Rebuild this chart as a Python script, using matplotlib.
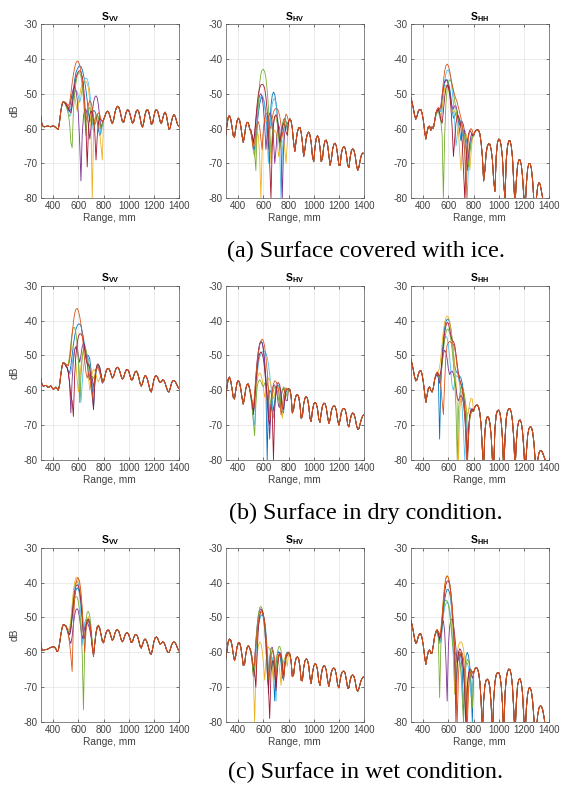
import numpy as np
import matplotlib.pyplot as plt

plt.rcParams['font.family'] = 'Liberation Sans'
plt.rcParams['mathtext.fontset'] = 'custom'
plt.rcParams['mathtext.rm'] = 'Liberation Sans'
plt.rcParams['mathtext.bf'] = 'Liberation Sans:bold'
plt.rcParams['mathtext.default'] = 'bf'
plt.rcParams['axes.unicode_minus'] = False

# sampling of the range axis (mm)
range_pre = np.arange(300, 500, 10)
range_head = np.arange(500, 800, 10)
range_tail = np.arange(800, 1410, 10)

# ---------------- (a) surface covered with ice ----------------
vv_ice_pre = [-56.5, -58.8, -59.4, -59.5, -59.4, -59.3, -59.3, -59.4, -59.5, -59.3,
              -59.2, -59.4, -59.7, -60, -60.2, -58, -55, -53, -52.2, -52.5]
vv_ice_heads = [
    [-53.2, -53.8, -54.5, -55, -54.5, -52, -49, -46, -44, -43, -42.3, -42, -42.2, -43, -44.5,
     -46.5, -49, -52, -55.5, -58, -57, -55.5, -54.8, -55, -56, -58, -60.5, -62, -60.5, -58.5],
    [-52.5, -53, -53.5, -52.5, -50, -47, -44.5, -42.5, -41.2, -40.6, -40.8, -41.8, -43.5, -46, -49.5,
     -54, -58, -55.5, -53, -52, -52.5, -54, -56.5, -59, -58, -56, -55.5, -56, -57.5, -58],
    [-52.8, -53.5, -54, -53, -51.5, -50, -49.5, -50.5, -53, -55, -53, -50.5, -48.5, -47.2, -46.5,
     -46.3, -46.5, -47, -48.5, -52, -60, -80, -62, -57.5, -56, -56.5, -58.5, -61.5, -65, -69],
    [-53, -54, -54.8, -54, -52, -50, -48.5, -48, -49, -51.5, -56, -64, -75, -62, -56.5,
     -54.5, -54.5, -56, -59, -63, -60, -55.5, -52.5, -51, -50.6, -51.2, -53.5, -57, -60, -58.5],
    [-53.5, -54.5, -56, -58.5, -64, -65.5, -55, -50, -47, -45, -44, -44, -45, -47.5, -51.5,
     -57, -62, -57, -54.5, -54, -55, -57, -59, -58, -56.5, -56, -56.8, -58.5, -60, -59],
    [-53.5, -54, -55, -56.5, -56, -53.5, -51, -49.5, -49, -49.5, -51, -52.5, -51, -48.5, -46.8,
     -45.8, -45.5, -45.8, -47, -49.5, -53.5, -58, -61, -58, -56, -55.8, -57, -59.5, -61.5, -59],
    [-53, -53.5, -54, -55, -55.5, -53.5, -50.5, -47.5, -45.5, -44.3, -43.6, -43.4, -43.8, -45, -47.5,
     -52, -60, -71, -60, -56, -55, -55.5, -57.5, -61, -69, -62, -58, -57, -57.5, -58],
]
vv_ice_tail = [-57.5, -56.5, -55.5, -55, -55.3, -56.3, -57.8, -58.6, -57.5, -55.5,
               -54.2, -53.6, -53.8, -54.8, -56.5, -58, -58.2, -56.8, -55.3, -54.6,
               -54.8, -55.8, -57.3, -58.5, -58, -56.3, -55, -54.6, -55.2, -56.8,
               -58.8, -59.6, -58.2, -56, -54.8, -54.5, -55.3, -57, -58.8, -58.5,
               -56.5, -55, -54.5, -55, -56.3, -58, -58.6, -57.2, -55.8, -55.3,
               -56.2, -58.3, -60.2, -59.8, -58, -56.6, -56, -56.5, -57.8, -59, -59.3]

hv_ice_pre = [-62, -59, -56.8, -56.2, -57.3, -59.5, -62, -62.5, -60, -57.8,
              -57, -57.5, -59.3, -62, -64, -62, -59.3, -58.2, -58.3, -60]
hv_ice_heads = [
    [-60.5, -62, -64, -66, -64, -59, -55.5, -53, -51.5, -51, -51.5, -53, -56, -61, -66,
     -60, -53.5, -50.5, -49.5, -50.2, -52.5, -56, -60.5, -65, -64, -60, -57.5, -57, -58, -60.5],
    [-61, -63.5, -66, -64, -60.5, -58.5, -58, -59.5, -63, -66, -60, -57, -55.8, -55.5, -56.5,
     -59.5, -60, -57, -55.2, -54.5, -54.2, -54.3, -55, -56.5, -59, -62, -60.5, -57.5, -55.8, -56.5],
    [-61, -63, -65.5, -68, -65, -61, -62, -68, -80, -66, -61, -58.5, -57.5, -58, -60,
     -64, -70, -65, -61.5, -60.5, -61, -63.5, -68, -66, -63, -62, -63, -66, -70, -64],
    [-60.5, -62.5, -64, -62, -58, -54.5, -52, -50.5, -50, -51, -54, -59, -66, -62, -57,
     -55.5, -56, -58.5, -63, -70, -66, -61, -59, -60, -65, -80, -66, -61, -58.8, -58.5],
    [-61, -63, -65, -67, -72, -60, -52, -47, -44.3, -43.2, -43, -43.7, -45.5, -49, -54,
     -60, -67, -62, -58, -56.5, -56.8, -58.5, -62, -66, -62, -59, -57.5, -57.2, -58, -60],
    [-61, -63, -66.5, -68, -62, -57, -54, -52, -50.8, -50.5, -51.2, -53.5, -57.5, -63, -70,
     -61, -56, -53, -51.5, -51.5, -53, -56, -60.5, -67, -80, -68, -61, -58.5, -58, -59.5],
    [-60.5, -62, -64, -61.5, -57, -53, -50, -48.3, -47.5, -47.3, -47.5, -48.5, -51, -55, -61,
     -70, -80, -65, -59, -56.5, -56, -57, -60, -64, -62, -59.5, -58.5, -59, -61, -62],
]
hv_ice_tail = [-58, -57.2, -57.8, -60, -64, -66.5, -63.5, -61, -59.8, -59.7,
               -61, -64, -68, -66, -63, -61.5, -61, -61.8, -64, -68,
               -69.5, -65.5, -62.8, -62, -62.8, -65.5, -69.5, -68.5, -65, -63.5,
               -63.3, -64.5, -67.5, -70.5, -69, -66, -64.5, -64.2, -65, -67.5,
               -70.5, -70.5, -67.2, -65.6, -65.2, -65.6, -67.5, -70.5, -71.2, -68.2,
               -66.3, -65.8, -66.2, -67.8, -70.5, -72, -71, -69, -67.5, -67, -67.2]

hh_ice_pre = [-51, -52.3, -54, -56, -57.3, -56.5, -55, -54.5, -54.5, -55.5,
              -57.5, -60.5, -63, -61, -59.5, -59.3, -60.5, -59.5, -60, -58]
hh_ice_heads = [
    [-56, -55, -54.5, -55, -55, -52, -49, -47, -46, -46, -46.8, -48.5, -51, -54.5, -57,
     -56.5, -55.5, -56, -58, -61, -63.5, -62, -60.5, -60.5, -62, -65, -68, -66, -63.5, -62.5],
    [-55.5, -54.5, -54, -54.5, -54, -50.5, -46.5, -43.5, -42, -41.5, -42, -43.5, -45.5, -47.5, -49,
     -50.5, -51.5, -52.5, -54, -55.5, -57, -59, -62, -67, -80, -67, -62.5, -60.5, -60, -60.5],
    [-56, -55, -54.5, -55.5, -56, -54, -51, -48.5, -47.5, -47.5, -48.5, -50.5, -53, -55, -55.5,
     -55, -55.5, -57.5, -61, -67, -72, -66, -62.5, -61, -61.5, -63.5, -67, -72, -67, -63],
    [-55.5, -54.5, -54, -54.5, -53.5, -50.5, -48, -46.5, -46, -46.3, -47.5, -49.5, -52, -54, -54.3,
     -53.5, -53.5, -55, -57.5, -59, -58.5, -58, -59, -61.5, -66, -72, -68, -64, -62, -61.5],
    [-56.5, -55.5, -55, -56, -58, -62, -80, -62, -53, -48.5, -46.5, -46, -46.3, -47.5, -49.5,
     -52, -54.5, -56.5, -57.5, -58, -58.5, -59.5, -61, -63, -65.5, -68.5, -71, -67, -64, -62.5],
    [-56, -55, -55, -56.5, -58, -55, -50, -46.5, -44.3, -43.3, -43.2, -44, -46, -49, -53,
     -58, -65, -62, -58.5, -57.5, -58, -60, -63, -67, -72, -80, -70, -65, -63, -62],
    [-55.5, -55, -54.5, -55.5, -57.5, -58.5, -55, -51, -48.5, -47.5, -48, -50, -54, -60, -68,
     -63, -58.5, -56.5, -56.3, -57.5, -60, -64, -72, -80, -70, -64, -61.5, -60.5, -61, -62],
]
hh_ice_tail = [-62, -61, -60.5, -60.3, -60.5, -61.5, -64, -68, -75, -72,
               -67, -65, -64.3, -64.5, -66, -69, -75, -78, -68, -64,
               -63, -63.3, -65, -68.5, -76, -80, -69, -65, -63.5, -63.5,
               -65, -68.5, -76, -82, -75, -70.5, -69, -69, -70.5, -74,
               -80, -83, -76, -71.5, -70, -70, -71.5, -75, -81, -83,
               -80, -76.5, -75.5, -76, -78, -80, -82, -83, -82, -81, -80.5]

# ---------------- (b) surface in dry condition ----------------
vv_dry_pre = [-56.5, -58.3, -58.8, -58.7, -58.6, -58.8, -59.2, -59, -58.7, -59.2,
              -59.7, -59.5, -59.1, -59.5, -60, -58.5, -55.5, -53, -52, -52.3]
vv_dry_heads = [
    [-53, -53.5, -54.5, -55, -53, -50, -47, -44.5, -42.5, -41.5, -41, -41, -41.5, -43, -45,
     -47.5, -49.5, -50, -50, -51, -54, -59, -65.5, -58.5, -54.5, -53, -52.8, -53.5, -55.5, -57.5],
    [-52.5, -53, -53, -51.5, -48, -44, -40.5, -38, -36.8, -36.5, -37.2, -38.8, -41, -44, -47.5,
     -51.5, -55, -56.5, -55, -56, -59, -62, -60, -56, -54, -53.5, -54, -55, -56.5, -57.5],
    [-52.5, -53, -52.5, -51, -49, -47.5, -47.5, -49, -52.5, -57, -60.5, -57, -53, -50, -48.5,
     -48.3, -49.5, -52, -56, -60, -58, -55, -54, -54.3, -55.5, -57, -57.5, -56.5, -56, -57],
    [-53, -53.5, -55, -58, -66.5, -57, -51.5, -48.5, -47.5, -48, -50, -52, -50, -47.5, -46.5,
     -47, -49, -52, -55.5, -57, -56, -56.5, -59, -57, -54, -53, -53.3, -54.5, -56.5, -58],
    [-52.5, -52.8, -52.5, -50, -46.5, -43.5, -42, -42, -43.5, -46.5, -51.5, -63.5, -56, -51, -48.5,
     -47.8, -48.3, -50, -53, -56.5, -57, -56, -56.5, -56, -54, -53, -53, -54, -55.5, -57],
    [-53, -53.5, -54.5, -55.5, -55, -52.5, -50, -48, -47.5, -48.5, -51.5, -56, -63.5, -58, -53.5,
     -51, -50, -50, -51, -53.5, -57, -61, -64, -58, -54.5, -53, -52.8, -53.5, -55.5, -57.5],
    [-53, -53.5, -55, -58, -62, -63, -67.5, -56, -50, -46.5, -44.5, -43.8, -43.8, -44.5, -46,
     -48.5, -51, -52.5, -52.5, -53.5, -56.5, -61, -65.5, -58, -54, -52.5, -52.5, -53.5, -55.5, -57.5],
]
vv_dry_tail = [-57.5, -56, -54.5, -53.8, -53.7, -54.3, -55.5, -56.5, -56, -54.7,
               -53.7, -53.4, -53.7, -54.7, -56, -56.8, -56.3, -55, -54.2, -54,
               -54.5, -55.8, -57, -57, -55.8, -54.8, -54.5, -55, -56.3, -58,
               -58.8, -58, -56.5, -55.8, -56, -57, -58.5, -60, -60.5, -59,
               -57, -56, -55.8, -56.3, -57.3, -57.8, -57.5, -57, -57.2, -58,
               -59.2, -60.2, -60.5, -59.5, -58, -57.3, -57.2, -57.5, -58.2, -59, -59.5]

hv_dry_pre = [-62.5, -59, -56.8, -56.2, -57.3, -59.5, -62, -62.5, -60, -57.8,
              -57.2, -57.8, -59.6, -62.2, -64, -62, -59.5, -58.3, -58.2, -59.5]
hv_dry_heads = [
    [-61.5, -64, -67, -64, -58, -53, -49.5, -47, -46, -46.3, -48, -52, -60, -80, -62,
     -60, -60.5, -63, -66, -63, -60, -58.8, -58.6, -59.5, -62, -66, -66.5, -62.5, -60.5, -59.8],
    [-61, -63, -65, -61, -56, -52, -49, -47, -45.8, -45.3, -45.8, -47.5, -50.5, -54.5, -60,
     -68, -66, -60.5, -58.2, -57.3, -57.5, -58.3, -60, -63, -67, -65, -61.5, -59.8, -59.3, -59.8],
    [-61, -63, -66, -64, -60, -57, -55.5, -55, -55.5, -57, -59.5, -62, -60, -57.5, -56.5,
     -57, -58.5, -61, -62.5, -61, -59.5, -59, -59.5, -61.5, -65, -68, -64, -61, -60, -60.2],
    [-61.5, -64, -67, -62, -56, -51.5, -48.5, -46.5, -46, -46.5, -48.5, -52, -56.5, -61, -66,
     -74, -64, -60, -58.5, -58.5, -59.5, -61.5, -64.5, -65, -62, -60, -59.5, -60.5, -63, -63],
    [-62, -65, -69, -73, -64, -59, -57.5, -57, -57.5, -58.5, -59, -58, -57.5, -58, -59.5,
     -62, -64, -62, -60, -59, -59, -60, -62.5, -65, -62, -60, -59, -59.5, -61, -62],
    [-62, -65, -68.5, -70, -62, -56, -52.5, -50.5, -49.5, -49, -48.8, -48.8, -49.3, -50.5, -52.5,
     -55.5, -59, -63.5, -68, -65, -61, -59, -58.5, -59, -61, -64, -65, -62, -60.5, -60],
    [-61.5, -63.5, -66, -63, -58, -54, -51, -49.5, -49, -49.5, -51, -54, -58, -63, -68,
     -70, -64, -66, -80, -65, -60, -58, -57.8, -58.5, -61, -65, -65.5, -62, -60, -59.7],
]
hv_dry_tail = [-59.5, -59.8, -61.5, -66.5, -65.5, -62.8, -61.5, -61.2, -61.8, -64,
               -68, -67.5, -64, -62.3, -61.8, -62.3, -64.3, -68, -69, -65.8,
               -64, -63.5, -63.8, -65.3, -68.2, -69.2, -66.5, -64.4, -63.7, -63.8,
               -65, -67.5, -69.5, -68.5, -66, -64.8, -64.5, -64.6, -65.8, -68.5,
               -70, -68.5, -66.3, -65.4, -65.2, -65.5, -67, -69.8, -70.5, -68.5,
               -67, -66.5, -66.8, -68, -70, -71.2, -71, -69.5, -68.2, -67.3, -67]

hh_dry_pre = [-51, -52.3, -54, -56, -57.3, -57, -55.5, -54.5, -54.3, -55.3,
              -57.5, -60.5, -63.5, -61.5, -59.5, -59, -60, -60.5, -59.3, -57]
hh_dry_heads = [
    [-56, -55, -56, -74, -58, -50, -45, -42, -40.3, -39.6, -39.6, -40.5, -42.5, -45.5, -49.5,
     -53, -54.5, -55, -55.5, -56, -56.5, -58, -60.5, -64, -70, -80, -72, -67.5, -66, -65.8],
    [-55.5, -54.8, -55, -56.5, -59, -63, -67, -58, -50, -47, -46.3, -46, -46.3, -46.5, -46.8,
     -48, -50.5, -53.5, -56, -57.5, -58.5, -60, -62.5, -66.5, -73, -82, -73, -68, -66.5, -66],
    [-55.5, -54.8, -54.5, -53.5, -50.5, -46.5, -43, -40.5, -39.2, -38.7, -39, -40.3, -42.5, -45.5, -49,
     -53, -57.5, -63, -80, -66, -61, -60, -60.5, -62, -64.5, -67.5, -66, -63.5, -62.3, -62.5],
    [-56, -55.5, -56.5, -58, -56, -52, -49.5, -48.5, -49, -51, -54, -55.5, -54.8, -54.5, -55.3,
     -57, -59.5, -62, -63, -62, -61.5, -62, -64, -67.5, -74, -80, -71, -67.5, -66, -65.5],
    [-55.5, -55, -55.5, -57, -56.5, -52.5, -48.5, -45.5, -43.5, -42.5, -42.5, -43.5, -45.5, -48.5, -52.5,
     -57.5, -65, -80, -66, -61, -59, -59, -60, -62, -65.5, -71, -74, -68.5, -66.3, -65.8],
    [-56, -55.5, -56, -57.5, -55, -51, -47.5, -45.3, -44.5, -45, -47, -50.5, -55, -59, -60,
     -57.5, -56, -55.8, -56.5, -58.5, -61.5, -65.5, -72, -80, -72, -67.5, -65.5, -65, -65.3, -66],
    [-55.5, -55, -55.5, -56, -54.5, -51, -47, -43.5, -41.5, -40.5, -40.8, -42.5, -44.5, -45.8, -46,
     -47, -49.5, -52.5, -55.3, -57, -58, -59.5, -62, -66, -72, -82, -71, -67, -65.5, -65.3],
]
hh_dry_tail = [-66, -64.8, -64.3, -64.2, -64.8, -66.5, -70, -77, -82, -72,
               -68.5, -67.5, -67.8, -69.5, -73, -80, -82, -71, -67, -65.8,
               -65.7, -66.5, -69, -74, -83, -74, -68, -66, -65.3, -65.3,
               -66.3, -69, -74, -83, -75, -70.5, -68.8, -68.5, -69.3, -72,
               -77, -84, -78, -73, -71, -70.5, -70.6, -72, -75, -80,
               -84, -80, -78, -77.3, -77.3, -78, -79, -80, -80.5, -80.3, -80.5]

# ---------------- (c) surface in wet condition ----------------
vv_wet_pre = [-57, -59.4, -59.5, -59.3, -59.2, -59.2, -59, -58.8, -58.6, -58.5,
              -58.4, -58.5, -59, -59.8, -59.5, -57.5, -55, -53, -52, -52.2]
vv_wet_heads = [
    [-52.5, -53.5, -54.5, -55, -53.5, -50.5, -47, -44, -42.2, -41.5, -41.8, -43.2, -46, -50, -55,
     -55.5, -52.3, -50.8, -50.5, -51.5, -54, -58, -61, -57.5, -54.5, -52.8, -52.4, -53.2, -55, -56.8],
    [-52.5, -53.5, -55, -57.5, -61, -65.5, -52, -44.5, -40.5, -38.8, -38.7, -39.8, -42.5, -47, -54,
     -60, -54, -51.5, -51, -52, -54.5, -58, -61.2, -57.5, -54.3, -52.7, -52.4, -53.2, -55, -56.8],
    [-52.3, -53, -53.5, -53, -50.5, -46.5, -42.5, -40, -38.6, -38.4, -39, -40.8, -44, -48.5, -53.5,
     -55.5, -52.5, -50.3, -49.8, -51, -53.5, -57.5, -60.5, -57.5, -54.5, -52.8, -52.4, -53.2, -55, -56.8],
    [-52.5, -53.5, -55, -56.5, -57.5, -55.5, -52, -49.3, -47.8, -47.5, -48.2, -50.3, -53.5, -56, -55,
     -53, -51.8, -51.5, -52.2, -53.5, -55.5, -58.5, -60.5, -57.5, -54.5, -52.8, -52.5, -53.3, -55, -56.8],
    [-52.3, -53, -54, -54, -52, -49, -46.3, -44.6, -44, -44.2, -45.5, -48.5, -53, -60, -76.5,
     -58, -51, -48.5, -48.3, -49.5, -52.5, -57, -60.5, -57.5, -54.3, -52.6, -52.2, -53, -54.8, -56.6],
    [-52.5, -53.3, -54, -54, -51.5, -47.5, -43.5, -41, -39.8, -39.6, -40.5, -43.5, -50, -58, -54.5,
     -51.5, -50.5, -50.5, -51.3, -52.5, -54.5, -58, -61, -57.5, -54.5, -52.8, -52.4, -53.2, -55, -56.8],
    [-52.5, -53.3, -54.5, -55, -53, -49.5, -45.5, -42.5, -41, -40.6, -41, -42.5, -45.5, -50, -56,
     -56, -52.5, -50.8, -50.5, -51.5, -54.3, -58.3, -61.3, -57.5, -54.3, -52.6, -52.3, -53.2, -55, -56.8],
]
vv_wet_tail = [-57.3, -55.8, -54.4, -53.7, -53.6, -54.3, -55.6, -56.6, -56, -54.6,
               -53.7, -53.5, -53.9, -55, -56.4, -57, -56.3, -55.1, -54.5, -54.4,
               -54.9, -56.1, -57.2, -57, -55.8, -55, -54.9, -55.4, -56.7, -58.2,
               -58.8, -57.8, -56.6, -56.2, -56.6, -57.6, -59, -60.3, -60.6, -59,
               -57, -55.9, -55.6, -56, -57, -57.7, -57.4, -57, -57.2, -58,
               -59.2, -60, -60.1, -59.3, -58, -57.3, -57, -57.3, -58, -59, -59.6]

hv_wet_pre = [-62, -59.5, -57, -56.2, -56.5, -58, -60.5, -62.4, -61, -58.5,
              -57.3, -57.2, -58.5, -61, -63.8, -63.5, -60.5, -58.7, -58.1, -58.7]
hv_wet_heads = [
    [-60, -62.5, -66, -64.5, -59, -55, -52, -50.3, -49.5, -49.3, -49.8, -51.5, -55, -61, -72,
     -63, -61, -62.5, -67, -74, -64, -60.5, -59.8, -60.5, -63, -67.5, -66.5, -62.5, -60.5, -60],
    [-59.5, -61.5, -64.5, -63, -58, -54, -51, -49.3, -48.5, -48.5, -49.5, -51.5, -55, -60, -67,
     -66, -61, -59.5, -60, -62.5, -67, -64, -61, -60.3, -61.5, -65, -68, -63.5, -61, -60.3],
    [-60, -62.5, -67, -80, -67, -61, -58, -57, -57.5, -59.5, -63, -68, -62.5, -59.5, -58.5,
     -59, -61, -64.5, -69, -64, -61.5, -61, -62.3, -65.5, -69.5, -65.5, -62.5, -61.5, -62, -64],
    [-60, -62.5, -66, -62, -56.5, -52.5, -49.5, -48, -47.5, -48, -50, -53.5, -58.5, -66, -70,
     -62, -59, -58.5, -60, -63.5, -70, -65, -61.5, -60.5, -61.5, -65, -68, -63.5, -61.5, -61],
    [-60, -62.5, -67, -64, -57.5, -52.5, -49, -47.2, -46.8, -47.5, -49.5, -53, -58, -65, -68,
     -61.5, -59, -59, -61, -65.5, -65, -60.5, -58.5, -58.3, -59.5, -62.5, -67.5, -64.5, -61, -60],
    [-60, -62.5, -66.5, -67, -60.5, -55.5, -52.5, -50.5, -49.5, -49.2, -49.5, -51, -54, -58.5, -64,
     -66.5, -62.5, -61.5, -63, -68, -74, -64.5, -61, -60, -60.5, -62.5, -66.5, -64, -61, -60],
    [-59.5, -61.5, -64.5, -66, -70, -60, -53, -49.5, -48.2, -48, -49, -51.5, -56, -63, -70,
     -79, -66, -62.5, -62.5, -65.5, -71, -64.5, -61, -60, -60.8, -63.5, -67.5, -64, -61, -60.2],
]
hv_wet_tail = [-60, -60.5, -62.5, -67, -66.5, -63.3, -61.7, -61.3, -61.8, -64,
               -68, -68.2, -64.5, -62.5, -61.9, -62.2, -63.8, -67.3, -69, -66,
               -64, -63.3, -63.5, -65, -68.3, -69.5, -66.5, -64.5, -63.9, -64,
               -65.2, -68, -69.8, -68, -65.8, -64.8, -64.5, -64.9, -66.5, -69.3,
               -70.2, -68, -66.2, -65.5, -65.4, -66, -68, -70.3, -70.2, -68,
               -66.8, -66.5, -66.9, -68.3, -70.5, -71.2, -70.4, -68.9, -67.8, -67.2, -67]

hh_wet_pre = [-50.8, -52, -53.8, -56, -57.5, -57, -55.5, -54.7, -54.7, -55.8,
              -58, -61, -63.5, -61.5, -59.8, -59.3, -60.3, -60.2, -58, -55.5]
hh_wet_heads = [
    [-54.5, -54, -55, -57, -57, -53, -48.5, -45, -43, -42, -42, -43, -45.5, -49.5, -55,
     -65, -70, -62, -60, -60, -61.5, -65, -80, -66, -61, -60, -61, -64, -70, -80],
    [-54, -53.5, -54, -55, -53.5, -49.5, -45, -41, -38.8, -38.1, -38.6, -40.2, -43, -47, -52,
     -58, -68, -80, -66, -61.5, -60, -60.2, -62, -66, -74, -82, -70, -66.5, -65.5, -65.5],
    [-54, -53.5, -54.5, -56, -54, -49.5, -44.5, -40.8, -38.5, -38, -38.5, -40.5, -44, -49.5, -57,
     -72, -65, -60, -58, -57.2, -57, -57.5, -59, -62, -67, -78, -72, -67.5, -65.8, -65.5],
    [-54.5, -54, -55, -56.5, -55, -52, -51, -54, -62, -74, -58, -52.5, -50.5, -50.5, -52,
     -55, -59, -63, -62, -60.5, -60.5, -62, -65.5, -72, -80, -70, -66.5, -65.5, -66, -67.5],
    [-54.5, -54, -56, -73, -58, -51, -47.5, -45.5, -45, -45.3, -46.5, -49, -52.5, -56.5, -60,
     -61, -60, -59.8, -60.5, -62.5, -66, -73, -80, -68, -63.5, -62, -62.5, -64.5, -68.5, -76],
    [-54.5, -54.3, -55.5, -57.5, -56.5, -53, -49.5, -47.2, -46, -45.6, -46, -47.5, -50.5, -55, -62,
     -72, -63, -60.5, -60.5, -62, -65, -70, -75, -67, -63.5, -63, -64.5, -68, -73, -70],
    [-54, -53.5, -54.5, -56, -55, -51, -46.5, -42.8, -40.5, -39.6, -39.5, -40.5, -43, -47, -52.5,
     -60, -80, -64, -60, -59, -59.5, -61.5, -65, -71, -82, -70, -66, -64.8, -65, -66],
]
hh_wet_tail = [-66, -64.8, -64.4, -64.6, -65.8, -68.5, -74, -83, -74, -69.5,
               -68, -67.7, -68.2, -70.2, -75, -84, -73.5, -68.5, -66.5, -65.8,
               -65.8, -66.8, -69.5, -75, -84, -72, -67.5, -65.5, -64.8, -65,
               -66.5, -70, -77, -84, -74.5, -69.5, -67.8, -67.6, -68.8, -72,
               -79, -84, -76, -72, -70.3, -70.2, -71.2, -74, -79, -84,
               -82, -78, -76, -75.4, -75.5, -76.5, -78.5, -81, -83, -82, -81]

panels = [
    [(vv_ice_pre, vv_ice_heads, vv_ice_tail), (hv_ice_pre, hv_ice_heads, hv_ice_tail),
     (hh_ice_pre, hh_ice_heads, hh_ice_tail)],
    [(vv_dry_pre, vv_dry_heads, vv_dry_tail), (hv_dry_pre, hv_dry_heads, hv_dry_tail),
     (hh_dry_pre, hh_dry_heads, hh_dry_tail)],
    [(vv_wet_pre, vv_wet_heads, vv_wet_tail), (hv_wet_pre, hv_wet_heads, hv_wet_tail),
     (hh_wet_pre, hh_wet_heads, hh_wet_tail)],
]
titles = ['S$_{VV}$', 'S$_{HV}$', 'S$_{HH}$']
captions = ['(a) Surface covered with ice.',
            '(b) Surface in dry condition.',
            '(c) Surface in wet condition.']

# MATLAB default line colours
colors = ['#0072BD', '#D95319', '#EDB120', '#7E2F8E', '#77AC30', '#4DBEEE', '#A2142F']
draw_order = [0, 5, 2, 3, 4, 6, 1]

x_all = np.concatenate([range_pre, range_head, range_tail])

fig = plt.figure(figsize=(5.62, 7.88), dpi=100)
W, H = 562.0, 788.0
col_left = [40.7, 225.7, 410.7]
row_top = [24, 285.7, 547.7]
ax_w, ax_h = 138.3, 174.3
caption_y = [251.5, 513.5, 772.0]
axis_grey = '#404040'

for r in range(3):
    for c in range(3):
        ax = fig.add_axes([col_left[c] / W, 1 - (row_top[r] + ax_h) / H, ax_w / W, ax_h / H])
        pre, heads, tail = panels[r][c]
        for i in draw_order:
            y = np.concatenate([pre, heads[i], tail])
            ax.plot(x_all, y, color=colors[i], lw=0.6)
        ax.set_xlim(300, 1400)
        ax.set_ylim(-80, -30)
        ax.set_xticks([400, 600, 800, 1000, 1200, 1400])
        ax.set_yticks([-80, -70, -60, -50, -40, -30])
        ax.grid(True, color='#e3e3e3', lw=0.5)
        ax.set_axisbelow(True)
        ax.tick_params(direction='in', length=2, width=0.5, top=True, right=True,
                       labelsize=7, colors=axis_grey, pad=2)
        for s in ax.spines.values():
            s.set_color('#555555')
            s.set_linewidth(0.5)
        ax.set_title(titles[c], fontsize=7.5, fontweight='bold', pad=3)
        ax.set_xlabel('Range, mm', fontsize=7.3, color=axis_grey, labelpad=1.5)
        if c == 0:
            ax.set_ylabel('dB', fontsize=7.3, color=axis_grey, labelpad=3)
    fig.text(366 / W, 1 - caption_y[r] / H, captions[r], fontsize=17.4,
             family='Liberation Serif', ha='center', va='center')

fig.savefig('out.png', dpi=100)
